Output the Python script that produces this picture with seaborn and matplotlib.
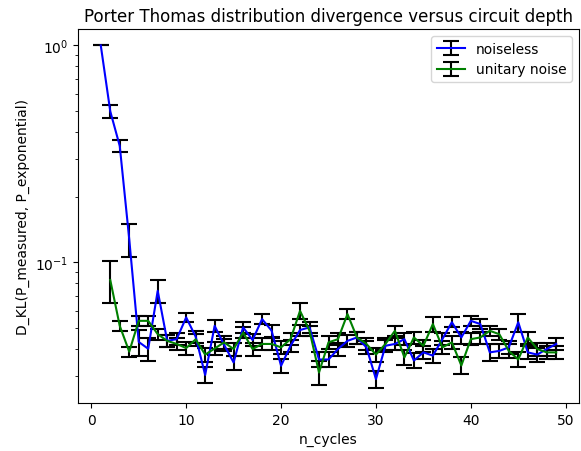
import numpy as np
import pandas as pd
import matplotlib
matplotlib.use("Agg")
import matplotlib.pyplot as plt
import seaborn as sns
from matplotlib.legend_handler import HandlerTuple

n_noiseless = list(range(1, 50))
noiseless = [1.0, 0.497, 0.344, 0.128, 0.043, 0.040, 0.074, 0.0435, 0.0443, 0.0558,
             0.0455, 0.0303, 0.051, 0.0417, 0.0346, 0.0502, 0.0439, 0.0548, 0.0485, 0.0334,
             0.0413, 0.0488, 0.0502, 0.0357, 0.0357, 0.0399, 0.0435, 0.0451, 0.0406, 0.029,
             0.0413, 0.0421, 0.0443, 0.0353, 0.0385, 0.0372, 0.0443, 0.053, 0.0451, 0.0538,
             0.052, 0.0385, 0.0391, 0.0406, 0.053, 0.0385, 0.0376, 0.0399, 0.0421]
noiseless_err = [0.0, 0.036, 0.022, 0.022, 0.006, 0.005, 0.009, 0.0028, 0.0028, 0.0028,
                 0.0028, 0.0026, 0.0032, 0.0028, 0.0026, 0.0028, 0.0028, 0.0028, 0.003, 0.0026,
                 0.0028, 0.0028, 0.0028, 0.0028, 0.0028, 0.0028, 0.0028, 0.0028, 0.0028, 0.0025,
                 0.0028, 0.0028, 0.0028, 0.0028, 0.0028, 0.0028, 0.0028, 0.0028, 0.0028, 0.0028,
                 0.0028, 0.0035, 0.0028, 0.0028, 0.005, 0.0028, 0.0028, 0.0028, 0.0028]

n_unitary = list(range(2, 50))
unitary = [0.083, 0.051, 0.0388, 0.0538, 0.0538, 0.0467, 0.0435, 0.0421, 0.0403, 0.0442,
           0.0376, 0.0401, 0.0428, 0.0399, 0.0475, 0.0399, 0.0421, 0.0421, 0.0406, 0.0443,
           0.0598, 0.0484, 0.0311, 0.0428, 0.0443, 0.0578, 0.0451, 0.0421, 0.0376, 0.0421,
           0.0484, 0.0365, 0.0451, 0.0413, 0.052, 0.0406, 0.0428, 0.0335, 0.0443, 0.0451,
           0.0484, 0.0467, 0.0391, 0.0357, 0.0451, 0.0399, 0.0385, 0.0385]
unitary_err = [0.018, 0.0028, 0.002, 0.0028, 0.0028, 0.0028, 0.0028, 0.0028, 0.0028, 0.0028,
               0.0028, 0.0028, 0.0028, 0.0028, 0.0028, 0.0028, 0.0028, 0.0028, 0.0028, 0.0028,
               0.005, 0.0028, 0.004, 0.0028, 0.0028, 0.003, 0.0028, 0.0028, 0.0028, 0.0028,
               0.0028, 0.0028, 0.0028, 0.0028, 0.004, 0.0028, 0.0028, 0.003, 0.0028, 0.0028,
               0.0028, 0.0028, 0.0028, 0.0028, 0.0028, 0.0028, 0.0028, 0.0028]

df_a = pd.DataFrame({"n_cycles": n_noiseless, "dkl": noiseless, "err": noiseless_err})
df_b = pd.DataFrame({"n_cycles": n_unitary, "dkl": unitary, "err": unitary_err})

fig = plt.figure(figsize=(5.81, 4.52), dpi=100)
ax = fig.add_axes([78 / 581, 1 - 404 / 452, (579 - 78) / 581, (404 - 30) / 452])

handles = []
for df, color, label in [(df_a, "blue", "noiseless"), (df_b, "green", "unitary noise")]:
    eb = ax.errorbar(df["n_cycles"], df["dkl"], yerr=df["err"], fmt="none",
                     ecolor="black", capsize=6, elinewidth=1.5, capthick=1.5, zorder=2)
    sns.lineplot(data=df, x="n_cycles", y="dkl", color=color, ax=ax,
                 linewidth=1.5, zorder=3, legend=False)
    line = ax.get_lines()[-1]
    handles.append(((eb, line), label))

ax.set_yscale("log")
ax.set_xlim(-1.4, 51.4)
ax.set_ylim(0.0225, 1.19)
ax.set_xticks([0, 10, 20, 30, 40, 50])
ax.set_xlabel("n_cycles")
ax.set_ylabel("D_KL(P_measured, P_exponential)")
ax.set_title("Porter Thomas distribution divergence versus circuit depth", fontsize=12)
ax.legend([h for h, _ in handles], [l for _, l in handles],
          handler_map={tuple: HandlerTuple(ndivide=1)}, loc="upper right")

fig.savefig("out.png", dpi=100)
